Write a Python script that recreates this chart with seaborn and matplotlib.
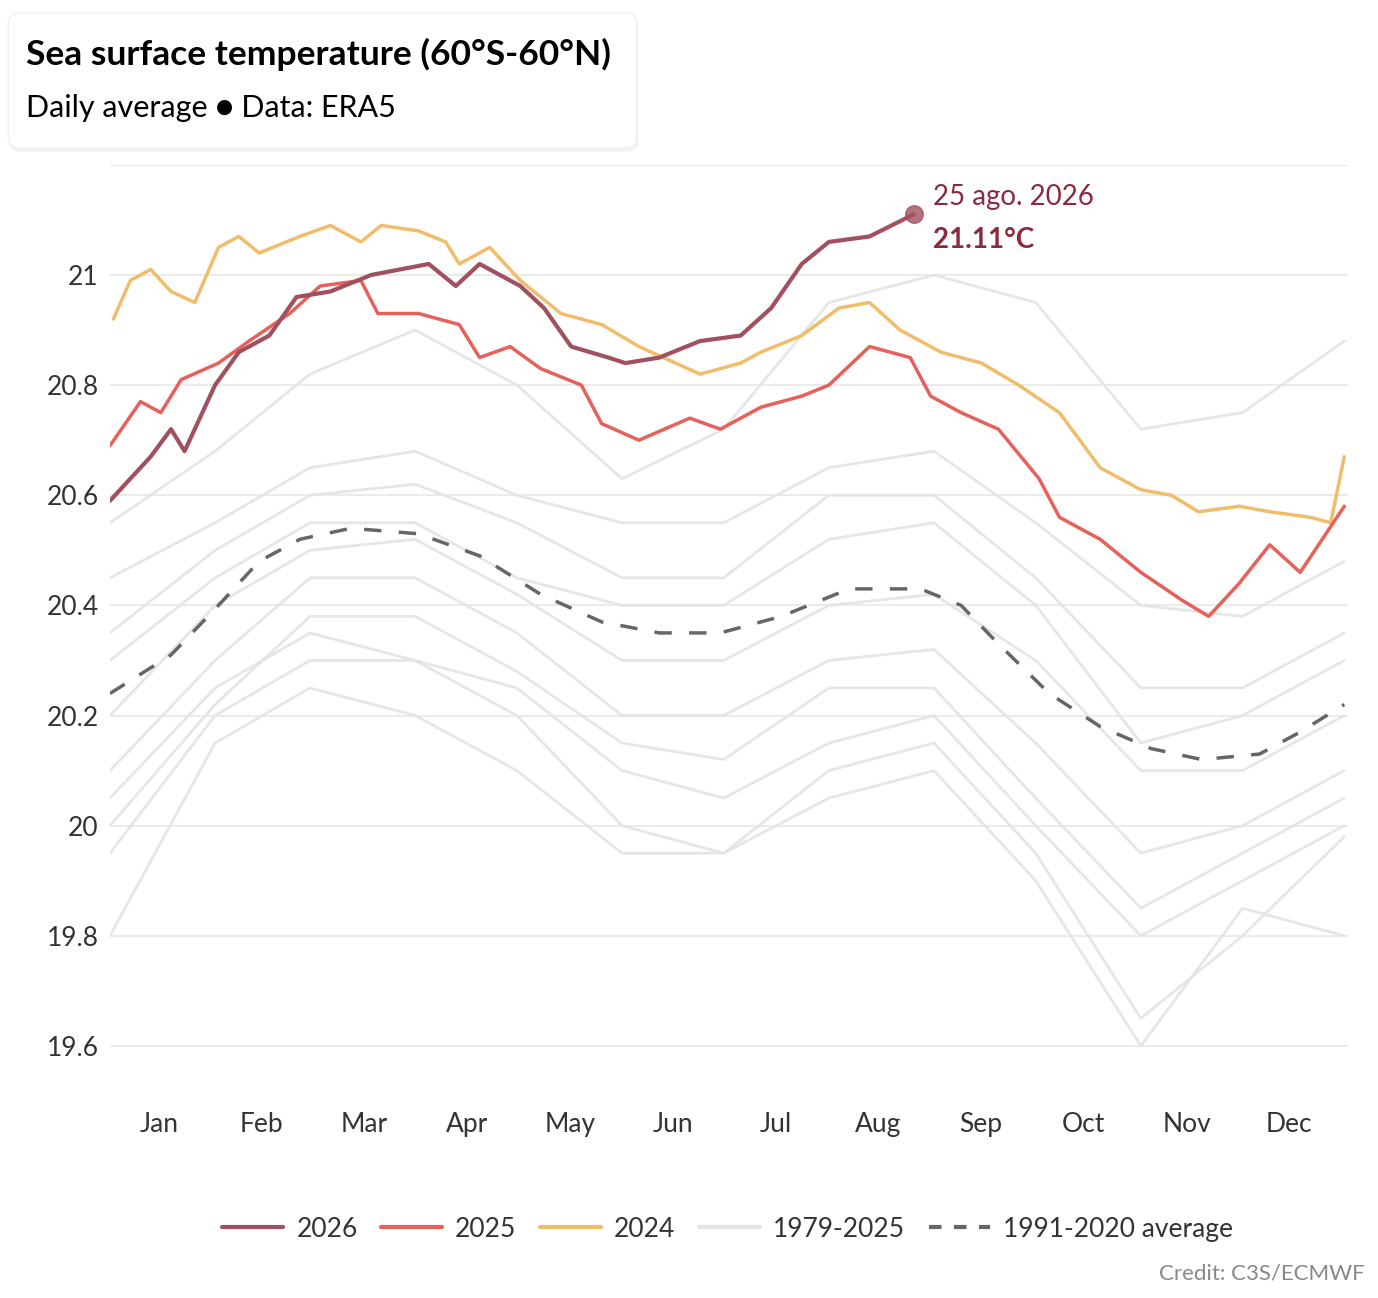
import matplotlib
matplotlib.use("Agg")
import matplotlib.pyplot as plt
import seaborn as sns
import pandas as pd
import numpy as np
from matplotlib.patches import FancyBboxPatch
from matplotlib.lines import Line2D

sns.set_theme(style="white")
plt.rcParams['font.family'] = ['Lato', 'DejaVu Sans']

months = ["Jan","Feb","Mar","Apr","May","Jun","Jul","Aug","Sep","Oct","Nov","Dec"]

d2026 = [0,12,18,22,31,38,47,55,65,77,94,102,109,121,128,136,147,152,162,174,186,195,204,212,224,237]
v2026 = [20.59,20.67,20.72,20.68,20.80,20.86,20.89,20.96,20.97,21.00,21.02,20.98,21.02,20.98,20.94,20.87,20.85,20.84,20.85,20.88,20.89,20.94,21.02,21.06,21.07,21.11]

d2025 = [0,9,15,21,32,41,53,62,74,79,91,103,109,118,127,139,145,156,171,180,192,204,212,224,236,242,251,262,274,280,292,304,316,324,333,342,351,364]
v2025 = [20.69,20.77,20.75,20.81,20.84,20.88,20.93,20.98,20.99,20.93,20.93,20.91,20.85,20.87,20.83,20.80,20.73,20.70,20.74,20.72,20.76,20.78,20.80,20.87,20.85,20.78,20.75,20.72,20.63,20.56,20.52,20.46,20.41,20.38,20.44,20.51,20.46,20.58]

d2024 = [1,6,12,18,25,32,38,44,56,65,74,80,91,99,103,112,121,133,145,156,174,186,192,204,215,224,233,245,257,268,280,292,304,313,321,333,342,354,360,364]
v2024 = [20.92,20.99,21.01,20.97,20.95,21.05,21.07,21.04,21.07,21.09,21.06,21.09,21.08,21.06,21.02,21.05,20.99,20.93,20.91,20.87,20.82,20.84,20.86,20.89,20.94,20.95,20.90,20.86,20.84,20.80,20.75,20.65,20.61,20.60,20.57,20.58,20.57,20.56,20.55,20.67]

davg = [0,18,32,44,56,71,91,109,127,145,162,180,198,218,239,251,262,277,292,307,322,339,351,364]
vavg = [20.24,20.31,20.40,20.48,20.52,20.54,20.53,20.49,20.42,20.37,20.35,20.35,20.38,20.43,20.43,20.40,20.33,20.24,20.18,20.14,20.12,20.13,20.17,20.22]

dgrey = [0,31,59,90,120,151,181,212,243,273,304,334,364]
grey_lines = [
    [20.55,20.68,20.82,20.90,20.80,20.63,20.72,20.95,21.00,20.95,20.72,20.75,20.88],
    [20.45,20.55,20.65,20.68,20.60,20.55,20.55,20.65,20.68,20.55,20.40,20.38,20.48],
    [20.35,20.50,20.60,20.62,20.55,20.45,20.45,20.60,20.60,20.45,20.25,20.25,20.35],
    [20.20,20.40,20.50,20.52,20.42,20.30,20.30,20.40,20.42,20.30,20.10,20.10,20.20],
    [20.10,20.30,20.45,20.45,20.35,20.20,20.20,20.30,20.32,20.15,19.95,20.00,20.10],
    [20.05,20.25,20.35,20.30,20.25,20.10,20.05,20.15,20.20,20.00,19.80,19.90,20.00],
    [19.95,20.20,20.30,20.30,20.20,20.00,19.95,20.10,20.15,19.95,19.65,19.80,19.98],
    [19.80,20.15,20.25,20.20,20.10,19.95,19.95,20.05,20.10,19.90,19.60,19.85,19.80],
    [20.30,20.45,20.55,20.55,20.45,20.40,20.40,20.52,20.55,20.40,20.15,20.20,20.30],
    [20.00,20.22,20.38,20.38,20.28,20.15,20.12,20.25,20.25,20.05,19.85,19.95,20.05],
]

c26, c25, c24, cg, cav = "#a0505f", "#e8605a", "#f0bd6a", "#e4e4e4", "#666666"

fig = plt.figure(figsize=(13.78, 12.98), dpi=100)
ax = fig.add_axes([0.0798, 0.173, 0.8982, 0.700])

for g in grey_lines:
    sns.lineplot(x=dgrey, y=g, ax=ax, color=cg, lw=2, alpha=0.9)
sns.lineplot(x=davg, y=vavg, ax=ax, color=cav, lw=2.5, linestyle=(0, (5, 5)))
sns.lineplot(x=d2024, y=v2024, ax=ax, color=c24, lw=2.5)
sns.lineplot(x=d2025, y=v2025, ax=ax, color=c25, lw=2.5)
sns.lineplot(x=d2026, y=v2026, ax=ax, color=c26, lw=3)
ax.scatter([d2026[-1]], [v2026[-1]], s=160, color=c26, alpha=0.8, zorder=5)
ax.annotate("25 ago. 2026", (d2026[-1], v2026[-1]), xytext=(14, 3), textcoords="offset points",
            fontsize=20, color="#8b2a3f", va="bottom")
ax.annotate("21.11°C", (d2026[-1], v2026[-1]), xytext=(14, -9), textcoords="offset points",
            fontsize=20, color="#8b2a3f", fontweight="bold", va="top")

ax.set_xlim(0, 365)
ax.set_ylim(19.55, 21.2)
yt = [19.6, 19.8, 20.0, 20.2, 20.4, 20.6, 20.8, 21.0, 21.2]
ax.set_yticks(yt)
ax.set_yticklabels([("%g" % v if v < 21.15 else "") for v in yt], fontsize=19, color="#333333")
ax.set_xticks([14.5 + 30.3 * i for i in range(12)])
ax.set_xticklabels(months, fontsize=19, color="#333333")
ax.tick_params(axis="x", pad=28, length=0)
ax.tick_params(axis="y", length=0, pad=8)
ax.grid(axis="y", color="#e8e8e8", lw=1.2)
for s in ax.spines.values():
    s.set_visible(False)

shadow = FancyBboxPatch((0.007, 0.883), 0.456, 0.104, boxstyle="round,pad=0,rounding_size=0.008",
                        transform=fig.transFigure, facecolor="#f2f2f2", edgecolor="none", zorder=0)
fig.patches.append(shadow)
box = FancyBboxPatch((0.006, 0.886), 0.456, 0.104, boxstyle="round,pad=0,rounding_size=0.008",
                     transform=fig.transFigure, facecolor="white", edgecolor="#f0f0f0", lw=1, zorder=0)
fig.patches.append(box)
fig.text(0.019, 0.958, "Sea surface temperature (60°S-60°N)", fontsize=25.5, fontweight="bold", color="black", va="center")
fig.text(0.019, 0.917, "Daily average ● Data: ERA5", fontsize=22, color="black", va="center")

handles = [Line2D([], [], color=c26, lw=3), Line2D([], [], color=c25, lw=3),
           Line2D([], [], color=c24, lw=3), Line2D([], [], color=cg, lw=3),
           Line2D([], [], color=cav, lw=3, linestyle=(0, (3, 3)))]
fig.legend(handles, ["2026", "2025", "2024", "1979-2025", "1991-2020 average"], loc="center",
           bbox_to_anchor=(0.528, 0.053), ncol=5, frameon=False, fontsize=19, handlelength=2.3,
           handletextpad=0.5, columnspacing=0.9, labelcolor="#333333")
fig.text(0.99, 0.014, "Credit: C3S/ECMWF", fontsize=16, color="#888888", ha="right")

fig.savefig("out.png", dpi=100, facecolor="white")
